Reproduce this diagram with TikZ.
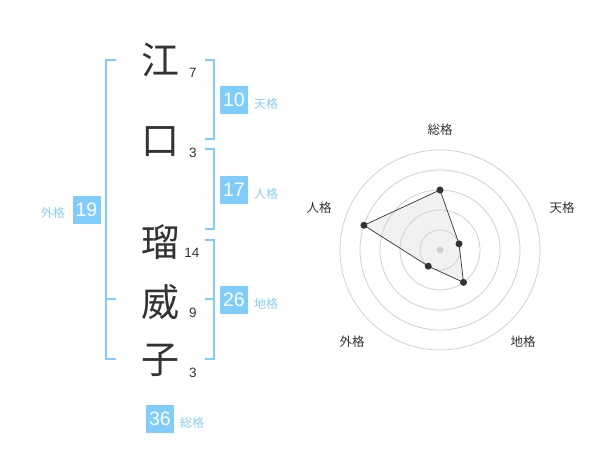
\documentclass[tikz,border=0pt]{standalone}
\usepackage{fontspec}
\setmainfont{Liberation Sans}
\newfontfamily\cjk{Noto Sans CJK JP}
\definecolor{kakublue}{RGB}{128,204,250}
\definecolor{kakutext}{RGB}{135,206,245}
\definecolor{inkgray}{RGB}{51,51,51}
\definecolor{ringgray}{RGB}{208,208,208}
\definecolor{areagray}{RGB}{241,241,241}
\begin{document}
\begin{tikzpicture}
          [x=1pt,y=-1pt,
          kanji/.style={font=\cjk\fontsize{38}{38}\selectfont,text=inkgray,inner sep=0pt},
          strokes/.style={font=\fontsize{13.5}{13.5}\selectfont,text=inkgray,inner sep=0pt},
          score/.style={fill=kakublue,text=white,font=\fontsize{19.5}{19.5}\selectfont,minimum size=28pt,inner sep=0pt},
          kaku/.style={font=\cjk\fontsize{12}{12}\selectfont,text=kakutext,inner sep=0pt},
          axis/.style={font=\cjk\fontsize{12.5}{12.5}\selectfont,text=inkgray,inner sep=0pt},
          bracket/.style={draw=kakublue,line width=2pt},
          ring/.style={draw=ringgray,line width=0.8pt},
          dot/.style={shape=circle,fill=inkgray,minimum size=7pt,inner sep=0pt},
          hub/.style={shape=circle,fill=ringgray,minimum size=7pt,inner sep=0pt},
          edge/.style={draw=inkgray,line width=0.7pt}]

            \useasboundingbox (0,0) rectangle (600,470);

            \node (k1) [kanji] at (160,60) {江};
            \node (k2) [kanji] at (160,142) {口};
            \node (k3) [kanji] at (160,242) {瑠};
            \node (k4) [kanji] at (160,302) {威};
            \node (k5) [kanji] at (160,360) {子};
            \node (n1) [strokes] at (193,73) {7};
            \node (n2) [strokes] at (193,153) {3};
            \node (n3) [strokes] at (192,253) {14};
            \node (n4) [strokes] at (193,313) {9};
            \node (n5) [strokes] at (193,373) {3};

            \coordinate (g1) at (116,60);
            \coordinate (g2) at (106,60);
            \coordinate (g3) at (106,359);
            \coordinate (g4) at (116,359);
            \coordinate (g5) at (106,299);
            \coordinate (g6) at (116,299);
            \coordinate (t1) at (205,60);
            \coordinate (t2) at (214,60);
            \coordinate (t3) at (214,139);
            \coordinate (t4) at (205,139);
            \coordinate (j1) at (205,149);
            \coordinate (j2) at (214,149);
            \coordinate (j3) at (214,229);
            \coordinate (j4) at (205,229);
            \coordinate (c1) at (205,240);
            \coordinate (c2) at (214,240);
            \coordinate (c3) at (214,359);
            \coordinate (c4) at (205,359);
            \coordinate (c5) at (214,299);
            \coordinate (c6) at (205,299);
          \draw [bracket] (g1) -- (g2) -- (g3) -- (g4);
          \draw [bracket] (g5) -- (g6);
          \draw [bracket] (t1) -- (t2) -- (t3) -- (t4);
          \draw [bracket] (j1) -- (j2) -- (j3) -- (j4);
          \draw [bracket] (c1) -- (c2) -- (c3) -- (c4);
          \draw [bracket] (c5) -- (c6);

            \node (ten) [score] at (234,100) {10};
            \node (jin) [score] at (234,190) {17};
            \node (chi) [score] at (234,300) {26};
            \node (gai) [score] at (86.5,210) {19};
            \node (sou) [score] at (160,419) {36};
            \node [kaku, anchor=west] at (254,104) {天格};
            \node [kaku, anchor=west] at (254,194) {人格};
            \node [kaku, anchor=west] at (254,304) {地格};
            \node [kaku, anchor=east] at (65,213) {外格};
            \node [kaku, anchor=west] at (180,423) {総格};

          \begin{scope}[shift={(440,250)},yscale=-1]
            \coordinate (s1) at (90:60);
            \coordinate (s2) at (18:20);
            \coordinate (s3) at (-54:40);
            \coordinate (s4) at (-126:20);
            \coordinate (s5) at (162:80);
          \fill [areagray] (s1) -- (s2) -- (s3) -- (s4) -- (s5) -- cycle;
          \foreach \r in {20,40,...,100}
            \draw [ring] (0,0) circle [radius=\r];
          \draw [edge] (s1) -- (s2) -- (s3) -- (s4) -- (s5) -- cycle;
            \node (hub) [hub] at (0,0) {};
            \node (d1) [dot] at (s1) {};
            \node (d2) [dot] at (s2) {};
            \node (d3) [dot] at (s3) {};
            \node (d4) [dot] at (s4) {};
            \node (d5) [dot] at (s5) {};
          \end{scope}

            \node (a1) [axis] at (440,130) {総格};
            \node (a2) [axis] at (562,208) {天格};
            \node (a3) [axis] at (523,342) {地格};
            \node (a4) [axis] at (352,342) {外格};
            \node (a5) [axis] at (319,208) {人格};

        \end{tikzpicture}
\end{document}
